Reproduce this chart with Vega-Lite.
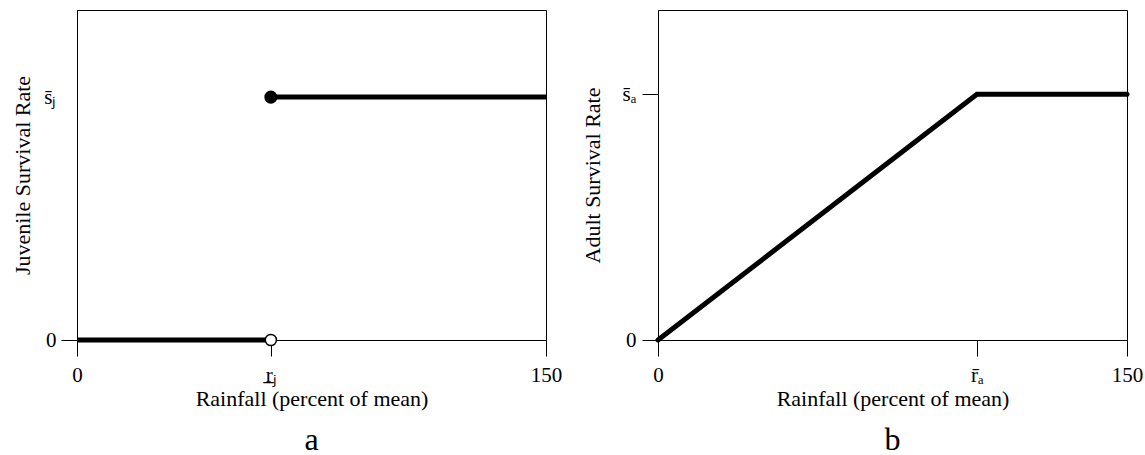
{
  "$schema": "https://vega.github.io/schema/vega-lite/v6.json",
  "padding": {"left": 10, "top": 9, "right": 0, "bottom": 0},
  "background": "white",
  "bounds": "flush",
  "spacing": 112,
  "datasets": {
    "juvenile": [
      {"rain": 0, "rate": 0, "seg": "below"},
      {"rain": 62, "rate": 0, "seg": "below"},
      {"rain": 62, "rate": 0.736, "seg": "above"},
      {"rain": 150, "rate": 0.736, "seg": "above"}
    ],
    "juvenile_points": [
      {"rain": 62, "rate": 0, "state": "open"},
      {"rain": 62, "rate": 0.736, "state": "closed"}
    ],
    "adult": [
      {"rain": 0, "rate": 0},
      {"rain": 102, "rate": 0.745},
      {"rain": 150, "rate": 0.745}
    ]
  },
  "config": {
    "font": "Liberation Serif",
    "view": {"stroke": "black", "strokeWidth": 1},
    "axis": {
      "domainColor": "black",
      "domainWidth": 1,
      "tickColor": "black",
      "tickSize": 16,
      "tickWidth": 1,
      "labelFont": "Liberation Serif",
      "titleFont": "Liberation Serif",
      "labelFontSize": 21,
      "titleFontSize": 22,
      "labelColor": "black",
      "titleColor": "black",
      "titleFontWeight": "normal",
      "grid": false,
      "zindex": 1,
      "labelFlush": false,
      "labelOverlap": false
    },
    "title": {
      "font": "Liberation Serif",
      "fontSize": 32,
      "fontWeight": "normal",
      "color": "black"
    }
  },
  "hconcat": [
    {
      "width": 469,
      "height": 330,
      "title": {"text": "a", "orient": "bottom", "offset": 16},
      "layer": [
        {
          "data": {"name": "juvenile"},
          "mark": {"type": "line", "color": "black", "strokeWidth": 5, "strokeCap": "butt"},
          "encoding": {
            "x": {
              "field": "rain", "type": "quantitative",
              "scale": {"domain": [0, 150], "nice": false, "zero": false},
              "axis": {
                "values": [0, 62, 150],
                "labelExpr": "datum.value == 62 ? 'r̲ⱼ' : datum.label",
                "title": "Rainfall (percent of mean)",
                "labelPadding": 8,
                "titleY": 65,
                "titleBaseline": "alphabetic"
              }
            },
            "y": {
              "field": "rate", "type": "quantitative",
              "scale": {"domain": [0, 1], "nice": false, "zero": false},
              "axis": {
                "values": [0, 0.736],
                "labelExpr": "datum.value == 0 ? '0' : 's̄ⱼ'",
                "title": "Juvenile Survival Rate",
                "labelPadding": 5,
                "titleX": -48,
                "titleAngle": 270,
                "titleBaseline": "alphabetic",
                "tickOpacity": {"condition": {"test": "datum.value == 0", "value": 1}, "value": 0}
              }
            },
            "detail": {"field": "seg"}
          }
        },
        {
          "data": {"name": "juvenile_points"},
          "transform": [{"filter": "datum.state == 'open'"}],
          "mark": {"type": "point", "shape": "circle", "filled": false, "fill": "white", "fillOpacity": 1, "stroke": "black", "strokeWidth": 1.5, "opacity": 1, "size": 125},
          "encoding": {
            "x": {"field": "rain", "type": "quantitative"},
            "y": {"field": "rate", "type": "quantitative"}
          }
        },
        {
          "data": {"name": "juvenile_points"},
          "transform": [{"filter": "datum.state == 'closed'"}],
          "mark": {"type": "point", "shape": "circle", "filled": true, "color": "black", "opacity": 1, "size": 170},
          "encoding": {
            "x": {"field": "rain", "type": "quantitative"},
            "y": {"field": "rate", "type": "quantitative"}
          }
        }
      ]
    },
    {
      "width": 469,
      "height": 330,
      "title": {"text": "b", "orient": "bottom", "offset": 16},
      "data": {"name": "adult"},
      "mark": {"type": "line", "color": "black", "strokeWidth": 5, "strokeCap": "round", "strokeJoin": "miter"},
      "encoding": {
        "x": {
          "field": "rain", "type": "quantitative",
          "scale": {"domain": [0, 150], "nice": false, "zero": false},
          "axis": {
            "values": [0, 102, 150],
            "labelExpr": "datum.value == 102 ? 'r̄ₐ' : datum.label",
            "title": "Rainfall (percent of mean)",
            "labelPadding": 8,
            "titleY": 65,
            "titleBaseline": "alphabetic"
          }
        },
        "y": {
          "field": "rate", "type": "quantitative",
          "scale": {"domain": [0, 1], "nice": false, "zero": false},
          "axis": {
            "values": [0, 0.745],
            "labelExpr": "datum.value == 0 ? '0' : 's̄ₐ'",
            "title": "Adult Survival Rate",
            "labelPadding": 6,
            "titleX": -59,
            "titleAngle": 270,
            "titleBaseline": "alphabetic"
          }
        }
      }
    }
  ]
}
